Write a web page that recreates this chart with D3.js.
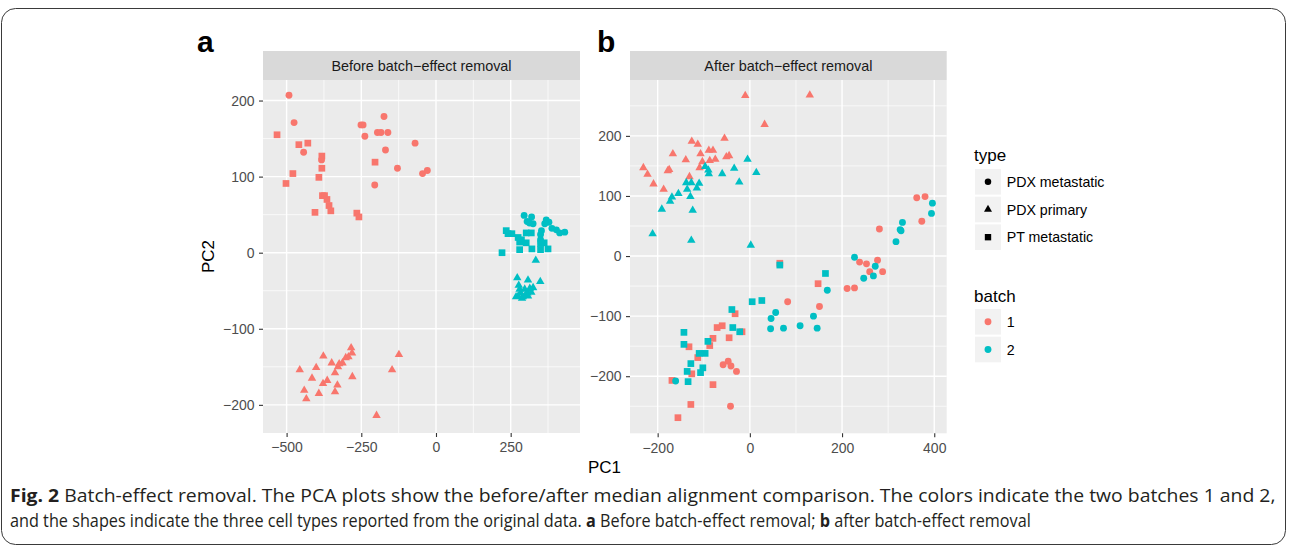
<!DOCTYPE html>
<html>
<head>
<meta charset="utf-8">
<script src="https://cdn.jsdelivr.net/npm/d3@7"></script>
<style>
body { margin: 0; background: #fff; }
svg { display: block; }
text { font-family: "Liberation Sans", Arial, Helvetica, sans-serif; }
</style>
</head>
<body>
<div id="chart"></div>
<script>
// values, [PC1, PC2]
var beforeB1Circle = [[-492,207],[-475,171],[-443,132],[-383,122],[-251,168],[-244,168],[-238,153],[-174,179],[-196,158],[-184,158],[-161,158],[-169,135],[-70,144],[-129,111],[-45,104],[-29,108],[-205,89]];
var beforeB1Triangle = [[-456,-154],[-401,-151],[-377,-136],[-415,-165],[-441,-181],[-434,-192],[-392,-185],[-349,-145],[-338,-158],[-324,-146],[-313,-145],[-328,-150],[-302,-138],[-293,-137],[-284,-125],[-281,-132],[-364,-168],[-378,-172],[-330,-174],[-338,-183],[-280,-163],[-124,-134],[-147,-154],[-199,-214]];
var beforeB1Square = [[-532,155],[-459,142],[-429,144],[-382,127],[-382,111],[-479,104],[-392,99],[-502,91],[-380,75],[-373,75],[-365,70],[-358,62],[-352,55],[-405,53],[-265,52],[-258,47],[-204,119]];
var beforeB2Circle = [[295,49],[320,47],[305,41],[313,39],[325,38],[369,43],[378,40],[364,38],[388,32],[403,30],[414,26],[431,27],[353,29],[350,24],[350,17],[352,13]];
var beforeB2Triangle = [[334,-10],[272,-33],[308,-36],[349,-38],[277,-43],[325,-46],[297,-48],[283,-53],[306,-53],[275,-57],[291,-58],[308,-57],[319,-52],[280,-48],[288,-60],[300,-55],[314,-47],[268,-58]];
var beforeB2Square = [[235,29],[241,25],[254,25],[275,20],[286,17],[302,26],[319,26],[280,14],[302,13],[350,12],[362,13],[280,4],[321,5],[350,4],[375,5],[221,0]];

var afterB1Circle = [[281,45],[362,97],[380,99],[373,58],[238,-10],[253,-13],[277,-7],[260,-26],[288,-26],[211,-54],[227,-53],[151,-84],[82,-76],[-58,-181],[-47,-175],[-41,-183],[-29,-192],[-42,-250]];
var afterB1Triangle = [[-10,267],[130,268],[32,219],[-55,196],[-126,191],[-113,186],[-167,170],[-107,170],[-89,176],[-80,176],[-139,160],[-103,157],[-87,159],[-75,161],[-51,165],[-45,167],[-109,147],[-231,147],[-222,136],[-178,142],[-175,144],[-209,120],[-187,111],[-131,132]];
var afterB1Square = [[65,-12],[-32,-96],[-71,-119],[-60,-116],[-17,-126],[-45,-136],[-132,-151],[-80,-137],[-87,-149],[-113,-169],[-126,-196],[-169,-207],[-80,-214],[-128,-247],[-156,-269],[148,-46]];
var afterB2Circle = [[-161,-208],[56,-94],[46,-104],[45,-121],[73,-120],[109,-116],[146,-120],[138,-100],[168,-57],[227,-2],[272,-17],[268,-33],[247,-37],[317,24],[326,44],[328,42],[331,56],[394,71],[396,88]];
var afterB2Triangle = [[-97,149],[-90,143],[-89,137],[-60,137],[-34,146],[-5,161],[14,139],[-23,123],[-138,122],[-127,122],[-110,121],[-136,111],[-115,113],[-155,104],[-169,98],[-173,91],[-129,99],[-191,78],[-124,76],[-211,37],[-127,26],[2,18]];
var afterB2Square = [[65,-15],[5,-76],[26,-74],[-39,-89],[-37,-119],[-22,-126],[-143,-127],[-143,-147],[-91,-142],[-110,-162],[-97,-162],[-128,-179],[-102,-186],[-136,-192],[-107,-194],[-134,-209],[164,-29]];

var typeNames = ["PDX metastatic", "PDX primary", "PT metastatic"];
var batchNames = ["1", "2"];

var beforeXTicks = [-500, -250, 0, 250];
var beforeXMinor = [-375, -125, 125, 375];
var beforeYTicks = [200, 100, 0, -100, -200];
var beforeYMinor = [150, 50, -50, -150];
var afterXTicks = [-200, 0, 200, 400];
var afterXMinor = [-100, 100, 300];
var afterYTicks = [200, 100, 0, -100, -200];
var afterYMinor = [250, 150, 50, -50, -150, -250];

var batchColor = ["#F8766D", "#00BFC4"];
var shapes = [d3.symbolCircle, d3.symbolTriangle, d3.symbolSquare];
var shapeSize = [37, 31, 45];

var width = 1292, height = 546;

var svg = d3.select('#chart')
	.append('svg')
	.attr('width', width)
	.attr('height', height);

// outer frame of the figure
svg.append('rect')
	.attr('x', 1.5).attr('y', 8.5)
	.attr('width', 1284).attr('height', 536)
	.attr('rx', 14)
	.attr('fill', 'none')
	.attr('stroke', '#3a3a3a')
	.attr('stroke-width', 1);

function drawPanel(p) {
	var x = d3.scaleLinear().domain(p.xDomain).range([p.left, p.right]);
	var y = d3.scaleLinear().domain(p.yDomain).range([p.bottom, p.top]);
	var g = svg.append('g');

	g.append('rect')
		.attr('x', p.left).attr('y', p.top)
		.attr('width', p.right - p.left).attr('height', p.bottom - p.top)
		.attr('fill', '#EBEBEB');

	// strip
	g.append('rect')
		.attr('x', p.left).attr('y', p.top - 29)
		.attr('width', p.right - p.left).attr('height', 29)
		.attr('fill', '#D9D9D9');
	g.append('text')
		.attr('x', (p.left + p.right) / 2).attr('y', p.top - 14.5)
		.attr('dy', '0.36em')
		.attr('text-anchor', 'middle')
		.attr('font-size', 14.4)
		.attr('fill', '#1A1A1A')
		.text(p.title);

	g.selectAll('.vminor').data(p.xMinor).enter().append('line')
		.attr('x1', x).attr('x2', x).attr('y1', p.top).attr('y2', p.bottom)
		.attr('stroke', '#fff').attr('stroke-width', 0.7);
	g.selectAll('.hminor').data(p.yMinor).enter().append('line')
		.attr('y1', y).attr('y2', y).attr('x1', p.left).attr('x2', p.right)
		.attr('stroke', '#fff').attr('stroke-width', 0.7);
	g.selectAll('.vmajor').data(p.xTicks).enter().append('line')
		.attr('x1', x).attr('x2', x).attr('y1', p.top).attr('y2', p.bottom)
		.attr('stroke', '#fff').attr('stroke-width', 1.4);
	g.selectAll('.hmajor').data(p.yTicks).enter().append('line')
		.attr('y1', y).attr('y2', y).attr('x1', p.left).attr('x2', p.right)
		.attr('stroke', '#fff').attr('stroke-width', 1.4);

	var xAxis = g.append('g')
		.attr('transform', 'translate(0,' + p.bottom + ')')
		.call(d3.axisBottom(x).tickValues(p.xTicks).tickSize(4).tickPadding(5.5));
	var yAxis = g.append('g')
		.attr('transform', 'translate(' + p.left + ',0)')
		.call(d3.axisLeft(y).tickValues(p.yTicks).tickSize(4).tickPadding(4.5));
	[xAxis, yAxis].forEach(function (a) {
		a.select('.domain').remove();
		a.selectAll('line').attr('stroke', '#333333').attr('stroke-width', 1.1);
		a.selectAll('text')
			.attr('fill', '#4D4D4D')
			.attr('font-size', 14);
	});

	p.groups.forEach(function (grp) {
		g.selectAll(null).data(grp.pts).enter().append('path')
			.attr('d', d3.symbol().type(shapes[grp.type]).size(shapeSize[grp.type]))
			.attr('transform', function (d) {
				return 'translate(' + x(d[0]) + ',' + y(d[1]) + ')';
			})
			.attr('fill', batchColor[grp.batch]);
	});

	svg.append('text')
		.attr('x', p.letterX).attr('y', 52.3)
		.attr('font-size', 30)
		.attr('font-weight', 'bold')
		.attr('fill', '#000')
		.text(p.letter);
}

drawPanel({
	title: 'Before batch\u2212effect removal', letter: 'a', letterX: 197,
	left: 263, right: 580, top: 80, bottom: 433,
	xDomain: [-579, 482], yDomain: [-237, 227],
	xTicks: beforeXTicks, xMinor: beforeXMinor, yTicks: beforeYTicks, yMinor: beforeYMinor,
	groups: [
		{pts: beforeB1Circle, type: 0, batch: 0},
		{pts: beforeB1Triangle, type: 1, batch: 0},
		{pts: beforeB1Square, type: 2, batch: 0},
		{pts: beforeB2Circle, type: 0, batch: 1},
		{pts: beforeB2Triangle, type: 1, batch: 1},
		{pts: beforeB2Square, type: 2, batch: 1}
	]
});

drawPanel({
	title: 'After batch\u2212effect removal', letter: 'b', letterX: 597,
	left: 630, right: 946.7, top: 80, bottom: 433.3,
	xDomain: [-260, 427], yDomain: [-295, 293],
	xTicks: afterXTicks, xMinor: afterXMinor, yTicks: afterYTicks, yMinor: afterYMinor,
	groups: [
		{pts: afterB1Circle, type: 0, batch: 0},
		{pts: afterB1Triangle, type: 1, batch: 0},
		{pts: afterB1Square, type: 2, batch: 0},
		{pts: afterB2Circle, type: 0, batch: 1},
		{pts: afterB2Triangle, type: 1, batch: 1},
		{pts: afterB2Square, type: 2, batch: 1}
	]
});

// axis titles
svg.append('text')
	.attr('transform', 'translate(214,256.5) rotate(-90)')
	.attr('text-anchor', 'middle')
	.attr('font-size', 17)
	.attr('fill', '#000')
	.text('PC2');
svg.append('text')
	.attr('x', 604.5).attr('y', 473)
	.attr('text-anchor', 'middle')
	.attr('font-size', 17)
	.attr('fill', '#000')
	.text('PC1');

// legends
function legend(title, names, titleY, keyY, drawKey) {
	var lg = svg.append('g');
	lg.append('text')
		.attr('x', 974).attr('y', titleY)
		.attr('font-size', 17)
		.attr('fill', '#000')
		.text(title);
	var rows = lg.selectAll(null).data(names).enter().append('g')
		.attr('transform', function (d, i) { return 'translate(975,' + (keyY + i * 27.7) + ')'; });
	rows.append('rect')
		.attr('width', 26).attr('height', 25.6)
		.attr('fill', '#F2F2F2');
	rows.append('path')
		.attr('transform', 'translate(13,12.8)')
		.attr('d', function (d, i) { return drawKey(i).d; })
		.attr('fill', function (d, i) { return drawKey(i).fill; });
	rows.append('text')
		.attr('x', 31.7).attr('y', 12.8)
		.attr('dy', '0.36em')
		.attr('font-size', 14.2)
		.attr('fill', '#000')
		.text(function (d) { return d; });
}

legend('type', typeNames, 161, 169, function (i) {
	return {d: d3.symbol().type(shapes[i]).size(shapeSize[i] * 0.9)(), fill: '#000'};
});
legend('batch', batchNames, 301.5, 309, function (i) {
	return {d: d3.symbol().type(d3.symbolCircle).size(37)(), fill: batchColor[i]};
});

// caption, condensed to the width each line has in the figure
var capFont = '"Open Sans", "Noto Sans", "Liberation Sans", sans-serif';
function captionLine(parts, yPos, targetWidth) {
	var t = svg.append('text')
		.attr('x', 0).attr('y', 0)
		.style('font-family', capFont)
		.style('font-size', '18px')
		.attr('fill', '#231F20');
	parts.forEach(function (pt) {
		t.append('tspan')
			.style('font-weight', pt[1] ? 'bold' : 'normal')
			.text(pt[0]);
	});
	var w = t.node().getComputedTextLength();
	t.attr('transform', 'translate(10,' + yPos + ') scale(' + (targetWidth / w) + ',1)');
}
captionLine([
	['Fig. 2', true],
	[' Batch-effect removal. The PCA plots show the before/after median alignment comparison. The colors indicate the two batches 1 and 2,', false]
], 502, 1266);
captionLine([
	['and the shapes indicate the three cell types reported from the original data. ', false],
	['a', true],
	[' Before batch-effect removal; ', false],
	['b', true],
	[' after batch-effect removal', false]
], 527, 1022);
</script>
</body>
</html>
